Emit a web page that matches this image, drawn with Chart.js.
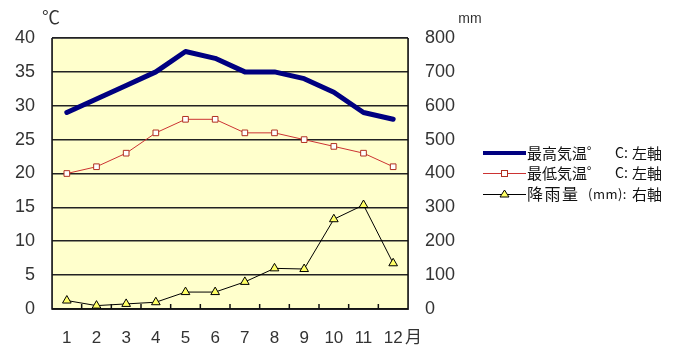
<!DOCTYPE html>
<html><head><meta charset="utf-8">
<script src="https://cdn.jsdelivr.net/npm/chart.js@4/dist/chart.umd.min.js"></script>
<style>html,body{margin:0;padding:0;background:#fff}#wrap{width:673px;height:351px;position:relative}</style>
</head><body><div id="wrap"><canvas id="c" width="673" height="351"></canvas></div>
<script>
const months = ['1','2','3','4','5','6','7','8','9','10','11','12'];
const maxTemp = [29, 31, 33, 35, 38, 37, 35, 35, 34, 32, 29, 28];
const minTemp = [20, 21, 23, 26, 28, 28, 26, 26, 25, 24, 23, 21];
const rain = [25, 10, 15, 20, 50, 50, 80, 120, 118, 265, 307, 135];
const legendLabels = ['最高気温゜ C: 左軸', '最低気温゜ C: 左軸', '降雨量 (mm): 右軸'];

const FONT = '"Liberation Sans", Arial, sans-serif';
const JFONT = '"Noto Sans CJK JP", "Liberation Sans", sans-serif';

const decor = {
  id: 'decor',
  beforeDraw(chart) {
    const {ctx, chartArea: a} = chart;
    ctx.save();
    ctx.fillStyle = '#ffffcc';
    ctx.fillRect(a.left, a.top, a.right - a.left, a.bottom - a.top);
    ctx.strokeStyle = '#888';
    ctx.lineWidth = 1;
    ctx.strokeRect(a.left + 0.5, a.top + 0.5, a.right - a.left, a.bottom - a.top);
    ctx.restore();
  },
  afterDatasetsDraw(chart) {
    const {ctx, chartArea: a, scales} = chart;
    ctx.save();
    ctx.strokeStyle = '#111';
    ctx.lineWidth = 1.5;
    ctx.beginPath();
    ctx.moveTo(a.left, a.top); ctx.lineTo(a.left, a.bottom); ctx.lineTo(a.right, a.bottom); ctx.lineTo(a.right, a.top);
    ctx.stroke();
    const xs = scales.x;
    for (let i = 0; i < months.length - 1; i++) {
      const px = (xs.getPixelForValue(i) + xs.getPixelForValue(i + 1)) / 2;
      ctx.beginPath(); ctx.moveTo(px, a.bottom); ctx.lineTo(px, a.bottom - 5); ctx.stroke();
    }
    ctx.restore();
  },
  afterDraw(chart) {
    const {ctx} = chart;
    ctx.save();
    ctx.fillStyle = '#333';
    ctx.textBaseline = 'middle';
    ctx.font = '18px ' + JFONT;
    ctx.textAlign = 'center';
    ctx.fillText('℃', 51, 17);
    ctx.font = '14px ' + FONT;
    ctx.fillText('mm', 470, 19);
    ctx.font = '17px ' + JFONT;
    ctx.textAlign = 'left';
    ctx.fillText('月', 405, 337);

    // legend
    const lx0 = 483, lx1 = 526, tx = 527;
    const rows = [153, 173, 194];
    ctx.strokeStyle = '#000080'; ctx.lineWidth = 4;
    ctx.beginPath(); ctx.moveTo(lx0, rows[0]); ctx.lineTo(lx1, rows[0]); ctx.stroke();
    ctx.strokeStyle = '#cc3333'; ctx.lineWidth = 1;
    ctx.beginPath(); ctx.moveTo(lx0, rows[1] + 0.5); ctx.lineTo(lx1, rows[1] + 0.5); ctx.stroke();
    ctx.fillStyle = '#fff'; ctx.strokeStyle = '#b03020';
    ctx.fillRect(501, rows[1] - 3, 7, 7); ctx.strokeRect(501.5, rows[1] - 2.5, 6, 6);
    ctx.strokeStyle = '#000'; ctx.lineWidth = 1;
    ctx.beginPath(); ctx.moveTo(lx0, rows[2] + 0.5); ctx.lineTo(lx1, rows[2] + 0.5); ctx.stroke();
    ctx.fillStyle = '#ffff66';
    ctx.beginPath(); ctx.moveTo(504.5, rows[2] - 4); ctx.lineTo(509, rows[2] + 3); ctx.lineTo(500, rows[2] + 3); ctx.closePath();
    ctx.fill(); ctx.stroke();

    ctx.fillStyle = '#111';
    ctx.textAlign = 'left';
    for (let r = 0; r < 2; r++) {
      const p = legendLabels[r].split(' ');
      ctx.font = '15px ' + JFONT;
      ctx.fillText(p[0], tx, rows[r]);
      ctx.font = '14px ' + JFONT;
      ctx.fillText(p[1], tx + 88, rows[r]);
      ctx.font = '15px ' + JFONT;
      ctx.fillText(p[2], tx + 105, rows[r]);
    }
    const p = legendLabels[2].split(' ');
    ctx.font = '16px ' + JFONT;
    ctx.letterSpacing = '1.5px';
    ctx.fillText(p[0], tx, rows[2]);
    ctx.letterSpacing = '0.5px';
    ctx.font = '13px ' + JFONT;
    ctx.fillText(p[1], tx + 61, rows[2]);
    ctx.letterSpacing = '0px';
    ctx.font = '15px ' + JFONT;
    ctx.fillText(p[2], tx + 105, rows[2]);
    ctx.restore();
  }
};

new Chart(document.getElementById('c'), {
  type: 'line',
  data: {
    labels: months,
    datasets: [
      { label: legendLabels[0], data: maxTemp, yAxisID: 'y', borderColor: '#000080', borderWidth: 5, pointRadius: 0, tension: 0, borderJoinStyle: 'round', borderCapStyle: 'round' },
      { label: legendLabels[1], data: minTemp, yAxisID: 'y', borderColor: '#cc3333', borderWidth: 1, pointStyle: 'rect', pointRadius: 4, pointBackgroundColor: '#fff', pointBorderColor: '#b03020', pointBorderWidth: 1, tension: 0 },
      { label: legendLabels[2], data: rain, yAxisID: 'y2', borderColor: '#000', borderWidth: 1, pointStyle: 'triangle', pointRadius: 5, pointBackgroundColor: '#ffff66', pointBorderColor: '#000', pointBorderWidth: 1, tension: 0 }
    ]
  },
  options: {
    responsive: false,
    animation: false,
    events: [],
    layout: { padding: { top: 38, right: 215, left: 0, bottom: 0 } },
    plugins: { legend: { display: false }, tooltip: { enabled: false } },
    scales: {
      x: {
        offset: true,
        grid: { display: false, drawTicks: false },
        border: { display: false },
        ticks: { color: '#333', font: { size: 17, family: FONT }, padding: 19, maxRotation: 0, autoSkip: false },
        afterFit(s) { s.height = 42; }
      },
      y: {
        position: 'left', min: 0, max: 40,
        ticks: { stepSize: 5, color: '#333', font: { size: 18, family: FONT }, padding: 17 },
        grid: { color: '#222', lineWidth: 1.6, drawTicks: false },
        border: { display: false },
        afterFit(s) { s.width = 52; }
      },
      y2: {
        position: 'right', min: 0, max: 800,
        ticks: { stepSize: 100, color: '#333', font: { size: 18, family: FONT }, padding: 17 },
        grid: { drawOnChartArea: false, drawTicks: false },
        border: { display: false },
        afterFit(s) { s.width = 50; }
      }
    }
  },
  plugins: [decor]
});
</script>
</body></html>
